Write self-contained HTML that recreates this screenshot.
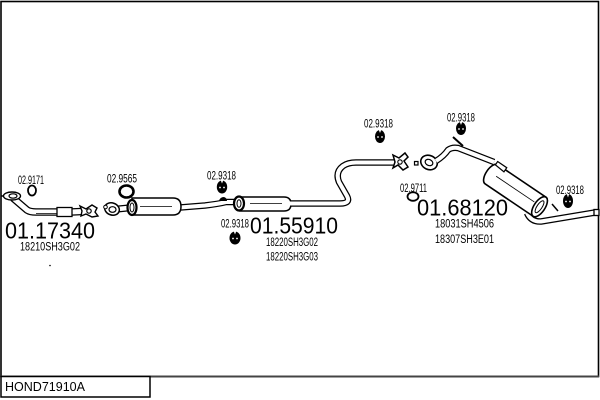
<!DOCTYPE html>
<html><head><meta charset="utf-8"><style>
html,body{margin:0;padding:0;background:#fff;width:600px;height:400px;overflow:hidden}
svg{display:block}
text{font-family:"Liberation Sans",sans-serif;fill:#000}
</style></head><body>
<svg width="600" height="400" viewBox="0 0 600 400" xmlns="http://www.w3.org/2000/svg">
<!-- frame -->
<rect x="1" y="1.5" width="597.5" height="375" fill="none" stroke="#000" stroke-width="1.6"/>
<line x1="1" y1="376.5" x2="599" y2="376.5" stroke="#444" stroke-width="2"/>
<rect x="1" y="376.5" width="149" height="20.5" fill="#fff" stroke="#000" stroke-width="1.5"/>
<text x="5" y="391" font-size="13" textLength="80" lengthAdjust="spacingAndGlyphs">HOND71910A</text>

<g fill="none" stroke-linecap="butt" stroke-linejoin="round">
<!-- front pipe -->
<path d="M13,198 Q20,204 27,210 Q30,212 36,212 L58,212 M71,212 L82,211.5" stroke="#000" stroke-width="7.5"/>
<path d="M13,198 Q20,204 27,210 Q30,212 36,212 L58,212 M71,212 L82,211.5" stroke="#fff" stroke-width="5"/>
<line x1="36" y1="213.5" x2="57" y2="213.5" stroke="#000" stroke-width="0.8"/>
</g>
<rect x="57" y="207.5" width="15" height="9" fill="#fff" stroke="#000" stroke-width="1.3"/>
<ellipse cx="12" cy="196" rx="8.5" ry="4" fill="#fff" stroke="#000" stroke-width="1.4"/>
<ellipse cx="13" cy="196" rx="4" ry="2.2" fill="#fff" stroke="#000" stroke-width="1.2"/>
<line x1="1" y1="196" x2="4" y2="196" stroke="#000" stroke-width="1.5"/>
<path d="M80,206 L86,209 L92,205 L97,208 L95,212 L98,216 L92,217 L86,214 L81,216 L82,211 Z" fill="#fff" stroke="#000" stroke-width="1.4"/>
<circle cx="89" cy="211" r="2.2" fill="#fff" stroke="#000" stroke-width="1.2"/>

<!-- catalyst section -->
<g fill="none" stroke-linejoin="round">
<path d="M118,209 L128,208" stroke="#000" stroke-width="7"/>
<path d="M118,209 L128,208" stroke="#fff" stroke-width="4.5"/>
<path d="M180,207.5 L205,205.5 Q218,204 226,202 L236,202" stroke="#000" stroke-width="6.5"/>
<path d="M180,207.5 L205,205.5 Q218,204 226,202 L236,202" stroke="#fff" stroke-width="4"/>
</g>
<path d="M132,198 L173,198 Q181,198 181,206.5 Q181,215 173,215 L132,215 Z" fill="#fff" stroke="#000" stroke-width="1.5"/>
<line x1="140" y1="206.5" x2="172" y2="206.5" stroke="#000" stroke-width="0.8"/>
<ellipse cx="132" cy="207.5" rx="4.5" ry="7.5" fill="#fff" stroke="#000" stroke-width="2.2"/>
<ellipse cx="132" cy="207.5" rx="2" ry="4.5" fill="#fff" stroke="#000" stroke-width="1"/>
<ellipse cx="112" cy="209" rx="7.5" ry="6" transform="rotate(20 112 209)" fill="#fff" stroke="#000" stroke-width="1.5"/>
<ellipse cx="112.5" cy="209.5" rx="3.5" ry="2.8" fill="#fff" stroke="#000" stroke-width="1.2"/>
<circle cx="105.5" cy="207" r="1.8" fill="#fff" stroke="#000" stroke-width="1"/>
<path d="M219,201 Q220,197 224,197 Q227,198 227,201 Z" fill="#000"/>

<!-- resonator -->
<path d="M240,197 L284,197 Q291,197 291,204 Q291,211 284,211 L240,211 Z" fill="#fff" stroke="#000" stroke-width="1.5"/>
<line x1="250" y1="203.5" x2="282" y2="203.5" stroke="#000" stroke-width="0.8"/>
<ellipse cx="239" cy="203.5" rx="5" ry="7" fill="#fff" stroke="#000" stroke-width="2.2"/>
<ellipse cx="239" cy="203.5" rx="2" ry="3.8" fill="#fff" stroke="#000" stroke-width="1"/>

<!-- mid pipe with S bend -->
<g fill="none" stroke-linejoin="round">
<path d="M290,203.5 L340,203.5 Q351,203.5 347,196 L339,182 Q335,172 343,166 Q348,162.5 356,162.5 L394,162.5" stroke="#000" stroke-width="6.5"/>
<path d="M290,203.5 L340,203.5 Q351,203.5 347,196 L339,182 Q335,172 343,166 Q348,162.5 356,162.5 L394,162.5" stroke="#fff" stroke-width="4"/>
</g>
<path d="M393,155 L399,158 L405,153 L408,157 L404,161 L408,167 L403,170 L398,165 L393,168 L395,162 Z" fill="#fff" stroke="#000" stroke-width="1.5"/>
<circle cx="400" cy="162" r="2.2" fill="#fff" stroke="#000" stroke-width="1.1"/>
<rect x="414.5" y="161.5" width="3.5" height="3.5" fill="#fff" stroke="#000" stroke-width="1.2"/>
<ellipse cx="429" cy="162.5" rx="8.5" ry="7" transform="rotate(25 429 162.5)" fill="#fff" stroke="#000" stroke-width="1.6"/>
<ellipse cx="429" cy="162.5" rx="4" ry="3" transform="rotate(25 429 162.5)" fill="#fff" stroke="#000" stroke-width="1.2"/>

<!-- rear pipe -->
<g fill="none" stroke-linejoin="round">
<path d="M436,161 Q444,156 448,150 Q452,147 458,148 L494,162" stroke="#000" stroke-width="6.5"/>
<path d="M436,161 Q444,156 448,150 Q452,147 458,148 L494,162" stroke="#fff" stroke-width="4"/>
<path d="M527,213 Q531,222 541,221.5 L595,212.5" stroke="#000" stroke-width="6.5"/>
<path d="M527,213 Q531,222 541,221.5 L595,212.5" stroke="#fff" stroke-width="4"/>
</g>
<line x1="453" y1="137" x2="463" y2="146" stroke="#000" stroke-width="2"/>
<rect x="594" y="209.5" width="5" height="6" fill="#fff" stroke="#000" stroke-width="1.3"/>

<!-- muffler -->
<g transform="translate(515.5,190.5) rotate(34)">
<path d="M-29,-11.5 L29,-11.5 A5,11.5 0 0 1 29,11.5 L-29,11.5 A5.5,11.5 0 0 1 -29,-11.5 Z" fill="#fff" stroke="#000" stroke-width="1.6"/>
<line x1="-24" y1="-1" x2="22" y2="-1" stroke="#000" stroke-width="0.8"/>
<ellipse cx="29" cy="0" rx="5.5" ry="11.5" fill="#fff" stroke="#000" stroke-width="1.6"/>
<ellipse cx="29" cy="0" rx="2.5" ry="7" fill="#fff" stroke="#000" stroke-width="1"/>
<path d="M-31,-14 L-20,-14 L-20,-9 L-31,-10 Z" fill="#fff" stroke="#000" stroke-width="1.2"/>
</g>
<line x1="552" y1="204" x2="558" y2="211" stroke="#000" stroke-width="1.5"/>

<!-- rings -->
<ellipse cx="32" cy="190.5" rx="4" ry="5" fill="none" stroke="#000" stroke-width="1.8"/>
<ellipse cx="126.5" cy="191.5" rx="7" ry="6" fill="none" stroke="#000" stroke-width="2.6"/>
<ellipse cx="413" cy="196.5" rx="5.5" ry="4.3" fill="none" stroke="#000" stroke-width="1.8"/>

<!-- hangers -->
<g transform="translate(222,187)">
<ellipse rx="5.2" ry="6.5" fill="#000"/>
<path d="M-1.2,-6.5 L0,-3.5 L1.2,-6.5 Z" fill="#fff"/>
<circle cx="-2" cy="0.5" r="0.9" fill="#fff"/><circle cx="2" cy="0.5" r="0.9" fill="#fff"/>
</g>
<g transform="translate(235,238)">
<ellipse rx="5.5" ry="6.5" fill="#000"/>
<path d="M-1.2,-6.5 L0,-3.5 L1.2,-6.5 Z" fill="#fff"/>
<circle cx="-2" cy="0.5" r="0.9" fill="#fff"/><circle cx="2" cy="0.5" r="0.9" fill="#fff"/>
</g>
<g transform="translate(380,136.5)">
<ellipse rx="5" ry="6.5" fill="#000"/>
<path d="M-1.2,-6.5 L0,-3.5 L1.2,-6.5 Z" fill="#fff"/>
<circle cx="-2" cy="0.5" r="0.9" fill="#fff"/><circle cx="2" cy="0.5" r="0.9" fill="#fff"/>
</g>
<g transform="translate(461,128.5)">
<ellipse rx="5" ry="6.5" fill="#000"/>
<path d="M-1.2,-6.5 L0,-3.5 L1.2,-6.5 Z" fill="#fff"/>
<circle cx="-2" cy="0.5" r="0.9" fill="#fff"/><circle cx="2" cy="0.5" r="0.9" fill="#fff"/>
</g>
<g transform="translate(568,201)">
<ellipse rx="5" ry="7" fill="#000"/>
<path d="M-1.2,-7 L0,-3.5 L1.2,-7 Z" fill="#fff"/>
<circle cx="-2" cy="0.5" r="0.9" fill="#fff"/><circle cx="2" cy="0.5" r="0.9" fill="#fff"/>
</g>
<circle cx="50" cy="265.5" r="0.8" fill="#000"/>

<!-- labels -->
<text x="18" y="184" font-size="12" textLength="26" lengthAdjust="spacingAndGlyphs">02.9171</text>
<text x="107" y="182.5" font-size="12" textLength="30" lengthAdjust="spacingAndGlyphs">02.9565</text>
<text x="207" y="179.5" font-size="12" textLength="29" lengthAdjust="spacingAndGlyphs">02.9318</text>
<text x="221" y="227.5" font-size="12" textLength="28" lengthAdjust="spacingAndGlyphs">02.9318</text>
<text x="364" y="127.5" font-size="12" textLength="29" lengthAdjust="spacingAndGlyphs">02.9318</text>
<text x="447" y="121.5" font-size="12" textLength="28" lengthAdjust="spacingAndGlyphs">02.9318</text>
<text x="400" y="192" font-size="12" textLength="27" lengthAdjust="spacingAndGlyphs">02.9711</text>
<text x="556" y="194" font-size="12" textLength="28" lengthAdjust="spacingAndGlyphs">02.9318</text>

<text x="5" y="238.5" font-size="23" textLength="90" lengthAdjust="spacingAndGlyphs">01.17340</text>
<text x="250" y="233.5" font-size="23" textLength="88" lengthAdjust="spacingAndGlyphs">01.55910</text>
<text x="417" y="215.5" font-size="23" textLength="91" lengthAdjust="spacingAndGlyphs">01.68120</text>

<text x="20" y="250.5" font-size="11.5" textLength="60" lengthAdjust="spacingAndGlyphs">18210SH3G02</text>
<text x="266" y="246" font-size="11.5" textLength="52" lengthAdjust="spacingAndGlyphs">18220SH3G02</text>
<text x="266" y="260.5" font-size="11.5" textLength="52" lengthAdjust="spacingAndGlyphs">18220SH3G03</text>
<text x="435" y="227.5" font-size="11.5" textLength="59" lengthAdjust="spacingAndGlyphs">18031SH4506</text>
<text x="435" y="243" font-size="11.5" textLength="59" lengthAdjust="spacingAndGlyphs">18307SH3E01</text>
</svg>
</body></html>
